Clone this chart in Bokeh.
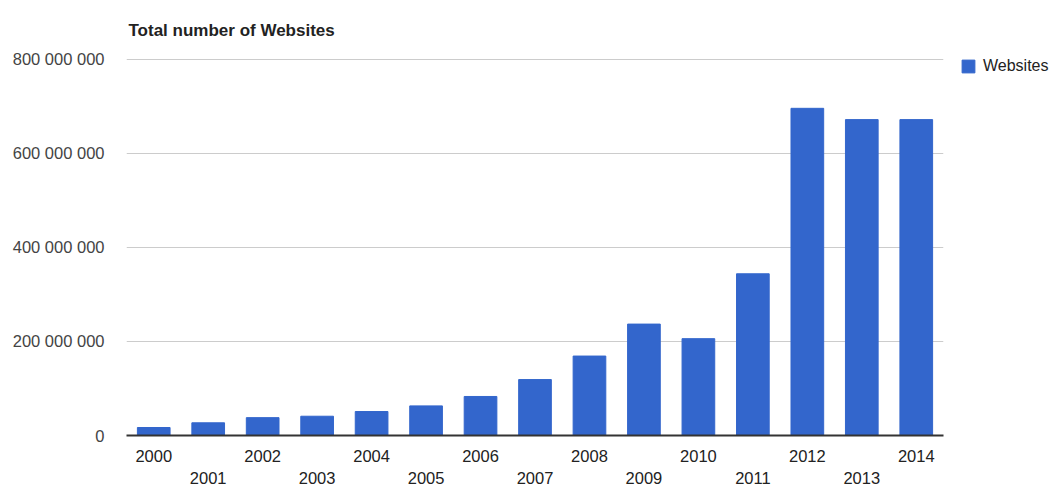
from bokeh.plotting import figure
from bokeh.models import (ColumnDataSource, FixedTicker, LinearAxis, Legend, LegendItem,
                          Range1d)
from bokeh.embed import file_html
from bokeh.resources import INLINE

# ---- data ----
years = ["2000", "2001", "2002", "2003", "2004", "2005", "2006", "2007",
         "2008", "2009", "2010", "2011", "2012", "2013", "2014"]
websites = [17000000, 27000000, 38000000, 41000000, 51000000, 63000000, 83000000,
            119000000, 169000000, 237000000, 206000000, 344000000, 696000000,
            672000000, 672000000]
y_ticks = [0, 200000000, 400000000, 600000000, 800000000]
y_tick_labels = ["0", "200 000 000", "400 000 000", "600 000 000", "800 000 000"]
series_name = "Websites"
title_text = "Total number of Websites"

FONT = "Liberation Sans"
BLUE = "#3366cc"

idx = list(range(len(years)))
src = ColumnDataSource(dict(x=idx, top=websites, year=years))

p = figure(frame_width=817, frame_height=377, output_backend="svg", toolbar_location=None,
           x_range=Range1d(-0.5, len(years) - 0.5), y_range=Range1d(0, 802000000),
           min_border_left=126, min_border_right=0, min_border_top=57,
           min_border_bottom=0, x_axis_location=None, y_axis_location=None)
p.outline_line_color = None
p.background_fill_color = "white"
p.border_fill_color = "white"

p.title.text = title_text
p.title.text_font = FONT
p.title.text_font_size = "17px"
p.title.text_font_style = "bold"
p.title.text_color = "#222222"
p.title.align = "left"
p.title.offset = 2
p.title.standoff = 37

r = p.vbar(x="x", top="top", width=0.6, source=src, fill_color=BLUE, line_color=BLUE)

# y axis
yax = LinearAxis(ticker=FixedTicker(ticks=y_ticks),
                 major_label_overrides={t: l for t, l in zip(y_ticks, y_tick_labels)})
yax.axis_line_color = None
yax.major_tick_line_color = None
yax.minor_tick_line_color = None
yax.major_label_standoff = 16
yax.major_label_text_font = FONT
yax.major_label_text_font_size = "16.5px"
yax.major_label_text_color = "#444444"
p.add_layout(yax, "left")

p.ygrid.ticker = FixedTicker(ticks=y_ticks[1:])
p.ygrid.grid_line_color = "#cccccc"
p.xgrid.grid_line_color = None

# x axes: even years on first row, odd years on second row
even = [i for i in idx if i % 2 == 0]
odd = [i for i in idx if i % 2 == 1]
xax1 = LinearAxis(ticker=FixedTicker(ticks=even),
                  major_label_overrides={i: years[i] for i in even})
xax1.axis_line_color = "#333333"
xax1.axis_line_width = 2
xax1.major_tick_line_color = None
xax1.minor_tick_line_color = None
xax1.major_label_standoff = 8
xax1.major_label_text_font = FONT
xax1.major_label_text_font_size = "16.5px"
xax1.major_label_text_color = "#222222"
p.add_layout(xax1, "below")

xax2 = LinearAxis(ticker=FixedTicker(ticks=odd),
                  major_label_overrides={i: years[i] for i in odd})
xax2.axis_line_color = None
xax2.major_tick_line_color = None
xax2.minor_tick_line_color = None
xax2.major_label_standoff = 1
xax2.major_label_text_font = FONT
xax2.major_label_text_font_size = "16.5px"
xax2.major_label_text_color = "#222222"
p.add_layout(xax2, "below")

legend = Legend(items=[LegendItem(label=series_name, renderers=[r])],
                location=(17, 360), padding=0, margin=0, border_line_color=None,
                background_fill_alpha=0, glyph_width=16, glyph_height=16,
                label_standoff=7, label_text_font=FONT, label_text_font_size="16px",
                label_text_color="#222222")
p.add_layout(legend, "right")

open("out.html", "w").write(file_html(p, INLINE))
